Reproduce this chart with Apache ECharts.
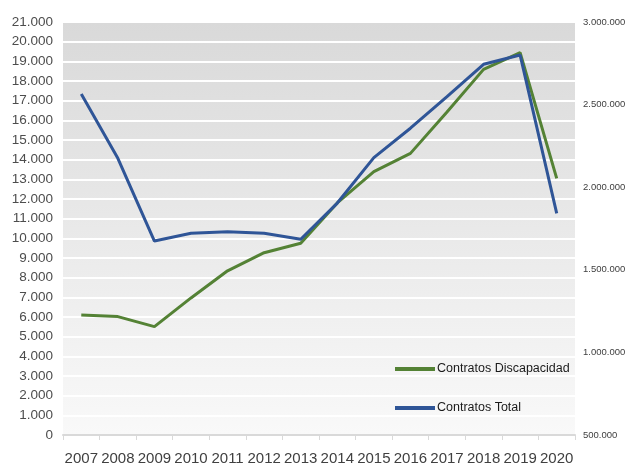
<!DOCTYPE html>
<html>
<head>
<meta charset="utf-8">
<script src="https://cdn.jsdelivr.net/npm/echarts@6/dist/echarts.min.js"></script>
<style>
  html, body { margin: 0; padding: 0; background: #fff; }
  #chart { width: 631px; height: 467px; }
</style>
</head>
<body>
<div id="chart"></div>
<script>
const years = ["2007", "2008", "2009", "2010", "2011", "2012", "2013", "2014", "2015", "2016", "2017", "2018", "2019", "2020"]
const contratosDiscapacidad = [6100, 6020, 5510, 6970, 8350, 9270, 9750, 11800, 13390, 14320, 16420, 18590, 19440, 13050]
const contratosTotal = [2564000, 2175000, 1674000, 1721000, 1731000, 1721000, 1685000, 1904000, 2179000, 2357000, 2548000, 2744000, 2800000, 1842000]

const dots = (v) => String(v).replace(/\B(?=(\d{3})+(?!\d))/g, ".")
const font = "'Liberation Sans', Arial, sans-serif"

const chart = echarts.init(document.getElementById("chart"))

chart.setOption({
  animation: false,
  textStyle: { fontFamily: font },
  grid: {
    left: 63,
    right: 56,
    top: 22,
    bottom: 32,
    show: true,
    borderWidth: 0,
    backgroundColor: {
      type: "linear", x: 0, y: 0, x2: 0, y2: 1,
      colorStops: [
        { offset: 0, color: "#d9d9d9" },
        { offset: 1, color: "#f9f9f9" }
      ]
    }
  },
  legend: {
    orient: "vertical",
    left: 390,
    top: 357,
    itemWidth: 40,
    itemHeight: 4,
    itemGap: 25,
    icon: "rect",
    textStyle: { fontFamily: font, fontSize: 12.5, color: "#1a1a1a", lineHeight: 14, padding: [0, 0, 0, -3] },
    data: ["Contratos Discapacidad", "Contratos Total"]
  },
  xAxis: {
    type: "category",
    data: years,
    boundaryGap: true,
    axisLine: { show: true, lineStyle: { color: "#d9d9d9", width: 2 } },
    axisTick: { show: true, length: 5, lineStyle: { color: "#d9d9d9" } },
    axisLabel: { fontFamily: font, fontSize: 15, color: "#404040", margin: 16, interval: 0 },
    splitLine: { show: false }
  },
  yAxis: [
    {
      type: "value",
      min: 0,
      max: 21000,
      interval: 1000,
      axisLine: { show: false },
      axisTick: { show: false },
      axisLabel: { fontFamily: font, fontSize: 13.5, color: "#4d4d4d", margin: 10, formatter: dots },
      splitLine: { show: true, lineStyle: { color: "#ffffff", width: 2 } }
    },
    {
      type: "value",
      min: 500000,
      max: 3000000,
      interval: 500000,
      position: "right",
      axisLine: { show: false },
      axisTick: { show: false },
      axisLabel: { fontFamily: font, fontSize: 9.5, color: "#404040", margin: 8, formatter: dots },
      splitLine: { show: false }
    }
  ],
  series: [
    {
      name: "Contratos Discapacidad",
      type: "line",
      yAxisIndex: 0,
      symbol: "none",
      itemStyle: { color: "#548235" },
      lineStyle: { color: "#548235", width: 3 },
      data: contratosDiscapacidad
    },
    {
      name: "Contratos Total",
      type: "line",
      yAxisIndex: 1,
      symbol: "none",
      itemStyle: { color: "#2f5597" },
      lineStyle: { color: "#2f5597", width: 3 },
      data: contratosTotal
    }
  ]
})
</script>
</body>
</html>
